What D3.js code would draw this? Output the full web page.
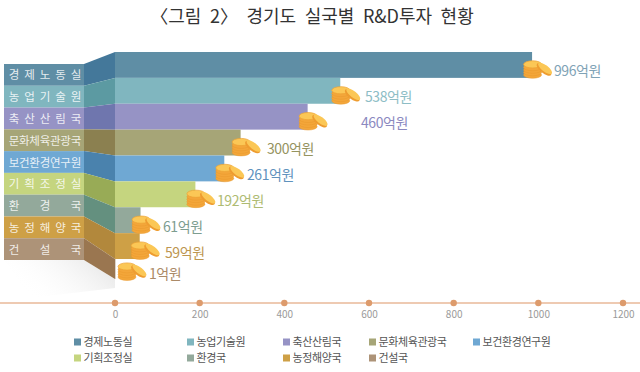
<!DOCTYPE html>
<html>
<head>
<meta charset="utf-8">
<script src="https://cdn.jsdelivr.net/npm/d3@7"></script>
<style>
  html, body { margin: 0; padding: 0; background: #fff; }
  text { font-family: "Noto Sans CJK KR", "Noto Sans", sans-serif; }
</style>
</head>
<body>
<div id="chart"></div>
<script>
// data
var categories = ["경제노동실", "농업기술원", "축산산림국", "문화체육관광국", "보건환경연구원", "기획조정실", "환경국", "농정해양국", "건설국"];
var values = [996, 538, 460, 300, 261, 192, 61, 59, 1];
var tickValues = [0, 200, 400, 600, 800, 1000, 1200];
var valueLabels = ["996억원", "538억원", "460억원", "300억원", "261억원", "192억원", "61억원", "59억원", "1억원"];
var titleText = "〈그림 2〉 경기도 실국별 R&D투자 현황";

// colours
var barColors = ["#5f8ea5", "#80b6bf", "#9693c5", "#a6a577", "#6fa8d3", "#c5d57f", "#93a99b", "#cea046", "#ad9378"];
var sideColors = ["#44789a", "#5c9aa2", "#6f76ae", "#8b8050", "#4a82ad", "#98ab56", "#64907f", "#b2883c", "#9a7650"];
var textColors = ["#7fa3b6", "#8dbdc5", "#8b89bf", "#95935f", "#5f92bd", "#aebb72", "#7d9d90", "#bd9650", "#ab8a68"];

var width = 640, height = 372;
var panelLeft = 4, panelRight = 84, barLeft = 115;

var svg = d3.select("#chart").append("svg")
    .attr("width", width)
    .attr("height", height)
    .style("display", "block");

// the picture's bars run a little short of its axis, so they get their own scale
var x = d3.scaleLinear().domain([0, 1200]).range([barLeft, 617.5]);
var xAxisScale = d3.scaleLinear().domain([0, 1200]).range([barLeft, 623]);

var rowIndex = d3.range(categories.length);
var panelY = d3.scaleBand().domain(rowIndex).range([64, 260]);
var barY = d3.scaleBand().domain(rowIndex.slice(0, 8)).range([52, 259]);

function barTop(i) { return i < 8 ? barY(i) : 259; }
function barBottom(i) { return i < 8 ? barY(i) + barY.bandwidth() : 279; }

// title
svg.append("text")
    .attr("x", 312)
    .attr("y", 23)
    .attr("text-anchor", "middle")
    .attr("font-size", "18px")
    .attr("word-spacing", "4.5px")
    .attr("fill", "#333")
    .text(titleText);

// soft shadow under the fold
var grad = svg.append("defs").append("linearGradient")
    .attr("id", "shade").attr("x1", 1).attr("y1", 0).attr("x2", 0).attr("y2", 0.4);
grad.append("stop").attr("offset", "0").attr("stop-color", "#d6d6d6").attr("stop-opacity", 0.7);
grad.append("stop").attr("offset", "1").attr("stop-color", "#fff").attr("stop-opacity", 0);
svg.append("polygon")
    .attr("points", [[4, 260], [84, 260], [115, 279], [115, 288], [30, 298]].join(" "))
    .attr("fill", "url(#shade)");

// bars
svg.selectAll("rect.bar")
    .data(values)
    .enter().append("rect")
    .attr("class", "bar")
    .attr("x", x(0))
    .attr("y", function(d, i) { return barTop(i); })
    .attr("width", function(d) { return x(d) - x(0); })
    .attr("height", function(d, i) { return barBottom(i) - barTop(i); })
    .attr("fill", function(d, i) { return barColors[i]; });

// fold between the labels and the bars
svg.selectAll("polygon.fold")
    .data(categories)
    .enter().append("polygon")
    .attr("class", "fold")
    .attr("points", function(d, i) {
        return [[panelRight, panelY(i)], [barLeft, barTop(i)], [barLeft, barBottom(i)],
                [panelRight, panelY(i) + panelY.bandwidth()]].join(" ");
    })
    .attr("fill", function(d, i) { return sideColors[i]; });

// label panels
svg.selectAll("rect.panel")
    .data(categories)
    .enter().append("rect")
    .attr("class", "panel")
    .attr("x", panelLeft)
    .attr("y", function(d, i) { return panelY(i); })
    .attr("width", panelRight - panelLeft)
    .attr("height", panelY.bandwidth())
    .attr("fill", function(d, i) { return barColors[i]; });

// panel text, characters spread across the panel
var panelText = svg.selectAll("g.panelText")
    .data(categories)
    .enter().append("g")
    .attr("class", "panelText")
    .attr("transform", function(d, i) { return "translate(0," + (panelY(i) + panelY.bandwidth() / 2 + 4.5) + ")"; });

panelText.selectAll("text")
    .data(function(d) {
        var chars = d.split("");
        var cx = d3.scalePoint().domain(d3.range(chars.length)).range([14, 76]);
        return chars.map(function(c, j) { return { c: c, x: cx(j) }; });
    })
    .enter().append("text")
    .attr("x", function(d) { return d.x; })
    .attr("text-anchor", "middle")
    .attr("font-size", "11.5px")
    .attr("fill", "#fff")
    .attr("fill-opacity", 0.85)
    .text(function(d) { return d.c; });

// coin stacks at the bar ends
var coins = svg.selectAll("g.coin")
    .data(values)
    .enter().append("g")
    .attr("class", "coin")
    .attr("transform", function(d, i) {
        var left = i < 8 ? x(d) - 8.5 : 118;
        var top = i < 8 ? barBottom(i) - 18 : 262;
        return "translate(" + left + "," + top + ")";
    });

[15, 12.5, 10, 7.5].forEach(function(cy) {
    coins.append("ellipse")
        .attr("cx", 9).attr("cy", cy).attr("rx", 9).attr("ry", 3.4)
        .attr("fill", "#f3a63a").attr("stroke", "#e9982c").attr("stroke-width", 0.5);
});
coins.append("ellipse")
    .attr("cx", 9).attr("cy", 4.5).attr("rx", 9).attr("ry", 3.6)
    .attr("fill", "#fbc756").attr("stroke", "#eda233").attr("stroke-width", 0.7);
coins.append("ellipse")
    .attr("cx", 20.5).attr("cy", 9.5).attr("rx", 9).attr("ry", 3.8)
    .attr("transform", "rotate(38 20.5 9.5)")
    .attr("fill", "#ee9c30");
coins.append("ellipse")
    .attr("cx", 21.5).attr("cy", 8.5).attr("rx", 8.5).attr("ry", 3.2)
    .attr("transform", "rotate(38 21.5 8.5)")
    .attr("fill", "#fbc756");

// value labels
var labelX = [554, 365, 361, 267, 247, 217, 163, 165, 149];
svg.selectAll("text.value")
    .data(valueLabels)
    .enter().append("text")
    .attr("class", "value")
    .attr("x", function(d, i) { return labelX[i]; })
    .attr("y", function(d, i) { return i < 8 ? barBottom(i) - 1.5 : 279; })
    .attr("font-size", "14px")
    .attr("letter-spacing", "-0.4px")
    .attr("fill", function(d, i) { return textColors[i]; })
    .text(function(d) { return d; });

// axis
var axis = svg.append("g")
    .attr("transform", "translate(0,303)");
axis.call(d3.axisBottom(xAxisScale).tickValues(tickValues).tickSize(0).tickPadding(8).tickFormat(function(d) { return d; }));
axis.select(".domain").remove();
axis.selectAll("text")
    .attr("font-size", "10px")
    .attr("font-family", '"Noto Sans CJK KR", sans-serif')
    .attr("fill", "#9a9a9a");
axis.insert("line", ":first-child")
    .attr("x1", 0).attr("x2", width)
    .attr("stroke", "#e9b998").attr("stroke-width", 1.5);
axis.selectAll("circle")
    .data(tickValues)
    .enter().append("circle")
    .attr("cx", function(d) { return xAxisScale(d); })
    .attr("r", 3.2)
    .attr("fill", "#dd9b6c");

// legend
var legendX = [74, 187, 283, 369, 473];
var legend = svg.selectAll("g.legend")
    .data(categories)
    .enter().append("g")
    .attr("class", "legend")
    .attr("transform", function(d, i) {
        return "translate(" + legendX[i % 5] + "," + (i < 5 ? 342 : 358) + ")";
    });
legend.append("rect")
    .attr("y", -3.5).attr("width", 7).attr("height", 7)
    .attr("fill", function(d, i) { return barColors[i]; });
legend.append("text")
    .attr("x", 9.5).attr("y", 4)
    .attr("font-size", "11px")
    .attr("letter-spacing", "-0.4px")
    .attr("fill", "#555")
    .text(function(d) { return d; });
</script>
</body>
</html>
